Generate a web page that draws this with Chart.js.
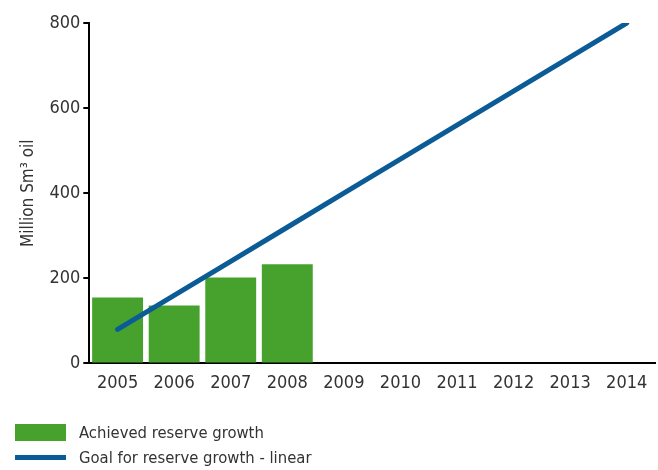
<!DOCTYPE html>
<html>
<head>
<meta charset="utf-8">
<script src="https://cdn.jsdelivr.net/npm/chart.js@4.4.1/dist/chart.umd.min.js"></script>
<style>
    html, body { margin: 0; padding: 0; background: #fff; }
    #wrap { position: relative; width: 658px; height: 470px; }
    #legend { position: absolute; left: 15px; top: 420px; font-family: 'Liberation Sans Narrow', 'DejaVu Sans Condensed', sans-serif; font-size: 16.5px; color: #333; }
    .item { display: flex; align-items: center; height: 25px; }
    .swatch { width: 51px; margin-right: 13px; }
</style>
</head>
<body>
<div id="wrap">
    <canvas id="reserveChart" width="658" height="470"></canvas>
    <div id="legend"></div>
</div>
<script>
// Reserve growth, million Sm3 oil
const years = ['2005', '2006', '2007', '2008', '2009', '2010', '2011', '2012', '2013', '2014'];
const achieved = [155, 136, 202, 233, null, null, null, null, null, null];
const goalLinear = [80, 160, 240, 320, 400, 480, 560, 640, 720, 800];
const yTicks = [0, 200, 400, 600, 800];

const GREEN = '#46a12d';
const BLUE = '#0b5b96';
const FONT = "'Liberation Sans Narrow', 'DejaVu Sans Condensed', sans-serif";

const ctx = document.getElementById('reserveChart').getContext('2d');
const chart = new Chart(ctx, {
    type: 'bar',
    data: {
        labels: years,
        datasets: [
            {
                type: 'line',
                label: 'Goal for reserve growth - linear',
                data: goalLinear,
                borderColor: BLUE,
                backgroundColor: BLUE,
                borderWidth: 5,
                borderCapStyle: 'round',
                pointRadius: 0,
                tension: 0,
                order: 0
            },
            {
                label: 'Achieved reserve growth',
                data: achieved,
                backgroundColor: GREEN,
                barPercentage: 0.9,
                categoryPercentage: 1,
                order: 1
            }
        ]
    },
    options: {
        responsive: false,
        animation: false,
        layout: { padding: { top: 23, right: 3, left: 14, bottom: 75 } },
        plugins: {
            legend: { display: false },
            tooltip: { enabled: false }
        },
        scales: {
            x: {
                grid: { display: false },
                border: { color: '#000', width: 2 },
                ticks: { color: '#333', font: { family: FONT, size: 18 }, padding: 1, maxRotation: 0 }
            },
            y: {
                min: 0,
                max: 800,
                afterBuildTicks: axis => { axis.ticks = yTicks.map(v => ({ value: v })); },
                grid: { drawOnChartArea: false, drawTicks: true, tickLength: 6, color: '#000', lineWidth: 2 },
                border: { color: '#000', width: 2 },
                ticks: { color: '#333', font: { family: FONT, size: 18 }, padding: 3 },
                title: {
                    display: true,
                    text: 'Million Sm³ oil',
                    color: '#333',
                    font: { family: FONT, size: 17 },
                    padding: { bottom: 8 }
                }
            }
        }
    }
});

// legend: bar first, then the line
const legend = document.getElementById('legend');
[chart.data.datasets[1], chart.data.datasets[0]].forEach(ds => {
    const item = document.createElement('div');
    item.className = 'item';
    const sw = document.createElement('div');
    sw.className = 'swatch';
    sw.style.height = ds.type === 'line' ? '5px' : '17px';
    sw.style.background = ds.backgroundColor;
    item.appendChild(sw);
    item.appendChild(document.createTextNode(ds.label));
    legend.appendChild(item);
});
</script>
</body>
</html>
